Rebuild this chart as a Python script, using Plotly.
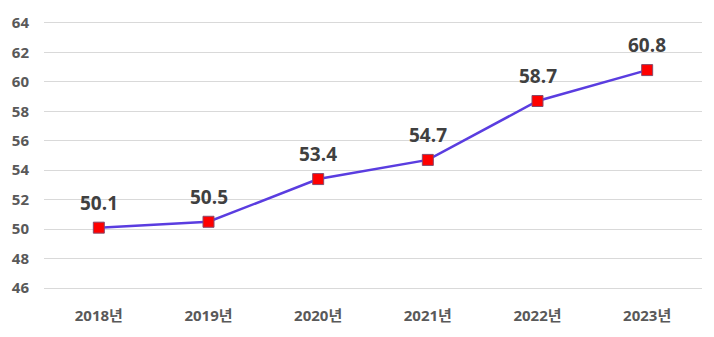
import plotly.graph_objects as go

years = ["2018년", "2019년", "2020년", "2021년", "2022년", "2023년"]
values = [50.1, 50.5, 53.4, 54.7, 58.7, 60.8]
y_ticks = [46, 48, 50, 52, 54, 56, 58, 60, 62, 64]

FONT = "Open Sans, Noto Sans CJK KR"

fig = go.Figure()
fig.add_trace(go.Scatter(
    x=years, y=values, mode="lines+markers",
    line=dict(color="#5a3de0", width=2.5),
    marker=dict(symbol="square", size=11, color="#ff0000",
                line=dict(color="#8a4a6a", width=1)),
    hoverinfo="skip", showlegend=False,
))
for xv, yv in zip(years, values):
    fig.add_annotation(x=xv, y=yv, text=f"{yv:.1f}", showarrow=False,
                       yshift=25, font=dict(family=FONT, size=19, color="#404040", weight="bold"))

fig.update_layout(
    width=714, height=337,
    margin=dict(l=42, r=12, t=15, b=43),
    paper_bgcolor="white", plot_bgcolor="white",
    font=dict(family=FONT, color="#595959"),
)
fig.update_xaxes(type="category", range=[-0.5, 5.5], showgrid=False, showline=False, ticks="",
                 tickfont=dict(family=FONT, size=15, color="#595959", weight="bold"), ticklabelstandoff=14)
fig.update_yaxes(range=[45.8, 64.2], tickvals=y_ticks, showgrid=True, gridcolor="#d9d9d9", gridwidth=1,
                 zeroline=False, showline=False, ticks="",
                 tickfont=dict(family=FONT, size=15, color="#595959", weight="bold"), ticklabelstandoff=14)
fig.write_html("out.html")
